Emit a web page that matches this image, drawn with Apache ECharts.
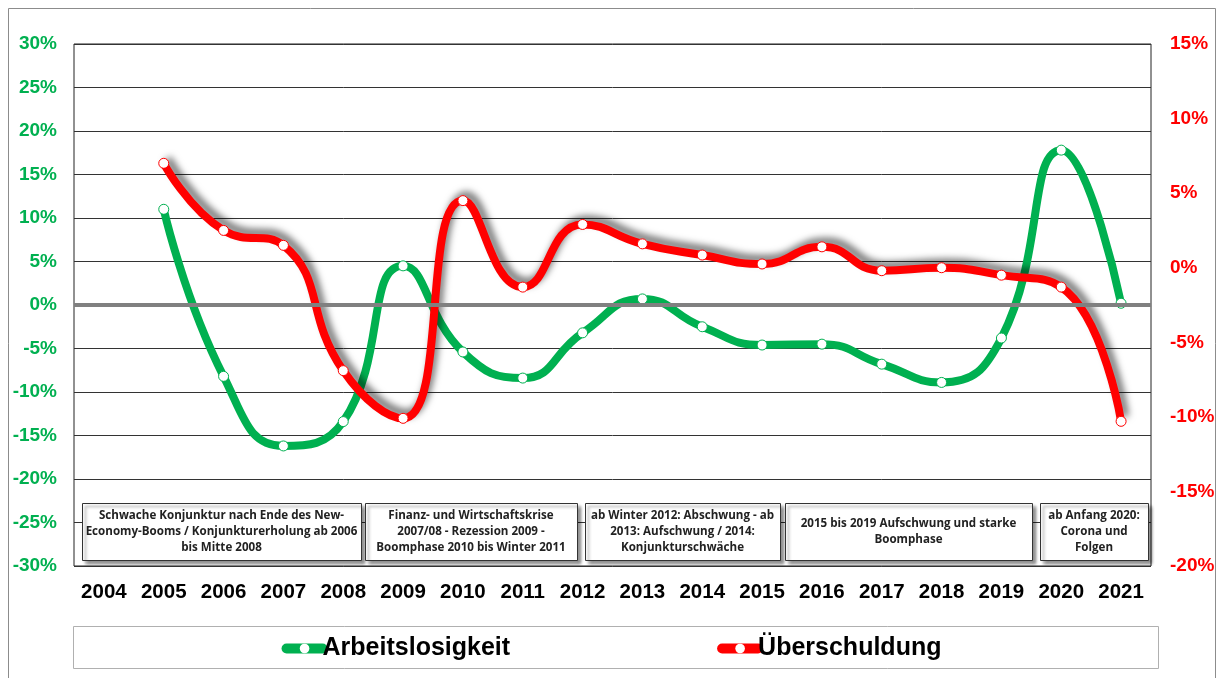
<!DOCTYPE html>
<html>
<head>
<meta charset="utf-8">
<script src="https://cdn.jsdelivr.net/npm/echarts@6/dist/echarts.min.js"></script>
<style>
  html, body { margin: 0; padding: 0; background: #fff; }
  #main { width: 1223px; height: 678px; }
</style>
</head>
<body>
<div id="main"></div>
<script>
// Jahre / Werte (in %)
var years = ['2004', '2005', '2006', '2007', '2008', '2009', '2010', '2011', '2012',
             '2013', '2014', '2015', '2016', '2017', '2018', '2019', '2020', '2021'];
var arbeitslosigkeit = [null, 11.0, -8.2, -16.2, -13.4, 4.5, -5.4, -8.4, -3.2,
                        0.7, -2.5, -4.6, -4.5, -6.8, -8.9, -3.8, 17.8, 0.2];
var ueberschuldung = [null, 7.0, 2.5, 1.5, -6.9, -10.1, 4.5, -1.3, 2.9,
                      1.6, 0.85, 0.25, 1.4, -0.2, 0.0, -0.5, -1.3, -10.3];

// Kommentar-Kästen unter den Kurven
var notes = [
    'Schwache Konjunktur nach Ende des New-\nEconomy-Booms / Konjunkturerholung ab 2006\nbis Mitte 2008',
    'Finanz- und Wirtschaftskrise\n2007/08 - Rezession 2009 -\nBoomphase 2010 bis Winter 2011',
    'ab Winter 2012: Abschwung - ab\n2013: Aufschwung / 2014:\nKonjunkturschwäche',
    '2015 bis 2019 Aufschwung und starke\nBoomphase',
    'ab Anfang 2020:\nCorona und\nFolgen'
];
var noteX = [[82, 361], [365, 577], [585, 780], [785, 1032], [1040, 1148]];

var GREEN = '#00B050';
var RED = '#FF0000';

var myChart = echarts.init(document.getElementById('main'));

var graphics = [
    // Rahmen außen
    { type: 'rect', z: -10, shape: { x: 8.5, y: 8.5, width: 1207, height: 690 },
      style: { fill: '#fff', stroke: '#8c8c8c', lineWidth: 1 } },
    // Legendenrahmen
    { type: 'rect', z: -5, shape: { x: 73.5, y: 626.5, width: 1085, height: 42 },
      style: { fill: '#fff', stroke: '#b0b0b0', lineWidth: 1 } }
];
notes.forEach(function (t, i) {
    var x0 = noteX[i][0], x1 = noteX[i][1];
    graphics.push({
        type: 'rect', z: 50,
        shape: { x: x0 + 0.5, y: 503.5, width: x1 - x0, height: 57 },
        style: { fill: '#fff', stroke: '#333', lineWidth: 1,
                 shadowBlur: 3, shadowOffsetX: 3, shadowOffsetY: 3, shadowColor: 'rgba(0,0,0,0.45)' }
    });
    graphics.push({
        type: 'text', z: 51,
        x: (x0 + x1) / 2, y: 532,
        style: { text: t, align: 'center', verticalAlign: 'middle',
                 fontFamily: 'Open Sans', fontWeight: 'bold', fontSize: 11.6, lineHeight: 16, fill: '#222' }
    });
});

var option = {
    backgroundColor: '#fff',
    animation: false,
    grid: {
        left: 74, right: 72, top: 44, bottom: 112,
        show: true, borderColor: '#222', borderWidth: 1, backgroundColor: 'transparent'
    },
    legend: {
        bottom: 12,
        left: 'center',
        itemGap: 207,
        itemWidth: 36,
        itemHeight: 12,
        lineStyle: { width: 10, cap: 'round' },
        itemStyle: { color: '#fff', borderWidth: 0 },
        textStyle: { fontFamily: 'Liberation Sans, Arial', fontWeight: 'bold', fontSize: 25, color: '#000', padding: [0, 0, 0, -5] },
        data: ['Arbeitslosigkeit', 'Überschuldung']
    },
    xAxis: {
        type: 'category',
        data: years,
        boundaryGap: true,
        axisLine: { show: false },
        axisTick: { show: false },
        axisLabel: { interval: 0, hideOverlap: false, margin: 16, color: '#000',
                     fontFamily: 'Liberation Sans, Arial', fontWeight: 'bold', fontSize: 20.5 }
    },
    yAxis: [
        {
            type: 'value', min: -30, max: 30, interval: 5,
            axisLine: { show: false }, axisTick: { show: false },
            axisLabel: { formatter: '{value}%', margin: 17, color: GREEN,
                         fontFamily: 'Liberation Sans, Arial', fontWeight: 'bold', fontSize: 19 },
            splitLine: { lineStyle: { color: '#333', width: 1 } }
        },
        {
            type: 'value', min: -20, max: 15, interval: 5,
            axisLine: { show: false }, axisTick: { show: false },
            axisLabel: { formatter: '{value}%', margin: 19, color: RED,
                         fontFamily: 'Liberation Sans, Arial', fontWeight: 'bold', fontSize: 19 },
            splitLine: { show: false }
        }
    ],
    graphic: graphics,
    series: [
        {
            // Nulllinie
            type: 'line', data: [], z: 1, silent: true,
            markLine: {
                symbol: 'none', silent: true, label: { show: false },
                lineStyle: { color: '#808080', width: 4, type: 'solid' },
                data: [{ yAxis: 0 }]
            }
        },
        {
            name: 'Arbeitslosigkeit',
            type: 'line', yAxisIndex: 0, z: 3,
            data: arbeitslosigkeit,
            smooth: 0.5,
            symbol: 'circle', symbolSize: 10,
            lineStyle: { color: GREEN, width: 8 },
            itemStyle: { color: GREEN },
            emphasis: { disabled: true }
        },
        {
            name: 'Überschuldung',
            type: 'line', yAxisIndex: 1, z: 4,
            data: ueberschuldung,
            smooth: 0.5,
            symbol: 'circle', symbolSize: 10,
            lineStyle: { color: RED, width: 8, shadowColor: 'rgba(0,0,0,0.55)', shadowBlur: 7,
                         shadowOffsetX: 4, shadowOffsetY: -5 },
            itemStyle: { color: RED },
            emphasis: { disabled: true }
        }
    ]
};

// Punkte weiß mit farbigem Rand
option.series[1].data = arbeitslosigkeit.map(function (v) {
    return { value: v, itemStyle: { color: '#fff', borderColor: GREEN, borderWidth: 1 } };
});
option.series[2].data = ueberschuldung.map(function (v) {
    return { value: v, itemStyle: { color: '#fff', borderColor: RED, borderWidth: 1 } };
});

myChart.setOption(option);
</script>
</body>
</html>
